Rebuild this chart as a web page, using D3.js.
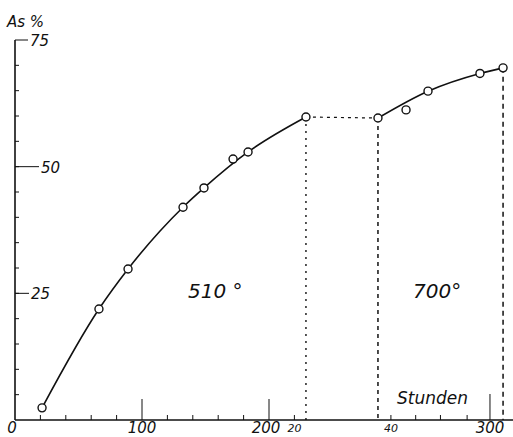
<!DOCTYPE html>
<html><head><meta charset="utf-8">
<script src="https://cdn.jsdelivr.net/npm/d3@7"></script>
<style>body{margin:0;background:#fff}svg{display:block}text{font-family:"DejaVu Sans",sans-serif;font-style:italic;fill:#111}</style>
</head><body><svg id="c" width="513" height="437"></svg>
<script>
// hours (position along the time axis) and As %
const hours510 = [21.3, 66.1, 89.0, 132.3, 148.8, 171.7, 183.5, 229.1];
const as510    = [2.4, 21.9, 29.8, 42.0, 45.8, 51.5, 52.9, 59.8];
const hours700 = [285.8, 307.9, 325.2, 366.1, 384.3];
const as700    = [59.6, 61.2, 64.9, 68.4, 69.5];
// points the drawn curve passes through (the scattered ones are left off)
const onCurve510 = [0, 1, 2, 3, 4, 6, 7];
const onCurve700 = [0, 2, 3, 4];
const yTickValues = [25, 50, 75];
const yMinor = d3.range(5, 75, 5);
const xTickValues = [0, 100, 200, 220, 296, 374];
const xTickLabels = ["0", "100", "200", "20", "40", "300"];
const xTallTicks = [100, 200, 374];
const xMinor = [20, 40, 60, 80, 120, 140, 160, 180, 220, 296, 315.5, 335, 356];
const tempLabels = ["510 °", "700°"];

const svg = d3.select("#c");
const x = d3.scaleLinear().domain([0, 100]).range([15, 142]);
const y = d3.scaleLinear().domain([0, 75]).range([420, 40]);
const ink = "#111";

// axes
svg.append("line").attr("x1", x(0)).attr("x2", 513).attr("y1", y(0)).attr("y2", y(0)).attr("stroke", ink).attr("stroke-width", 1.6);
svg.append("line").attr("x1", x(0)).attr("x2", x(0)).attr("y1", y(0)).attr("y2", y(75)).attr("stroke", ink).attr("stroke-width", 1.6);

// y minor ticks
svg.selectAll(".ym").data(yMinor).join("line")
  .attr("x1", x(0)).attr("x2", x(0) + 4).attr("y1", d => y(d)).attr("y2", d => y(d))
  .attr("stroke", ink).attr("stroke-width", 1);
// y labelled ticks with leader lines
const yLead = {25: 14, 50: 24, 75: 13};
svg.selectAll(".yt").data(yTickValues).join("line")
  .attr("x1", x(0)).attr("x2", d => x(0) + yLead[d]).attr("y1", d => y(d)).attr("y2", d => y(d))
  .attr("stroke", ink).attr("stroke-width", 1);
svg.selectAll(".yl").data(yTickValues).join("text")
  .attr("x", d => x(0) + yLead[d] + 2).attr("y", d => y(d) + 6)
  .attr("font-size", 15).text(d => d);

// x ticks
svg.selectAll(".xm").data(xMinor).join("line")
  .attr("x1", d => x(d)).attr("x2", d => x(d)).attr("y1", y(0)).attr("y2", y(0) - 5)
  .attr("stroke", ink).attr("stroke-width", 1);
svg.selectAll(".xt").data(xTallTicks).join("line")
  .attr("x1", d => x(d)).attr("x2", d => x(d)).attr("y1", y(0)).attr("y2", d => y(0) - (d === 374 ? 26 : 21))
  .attr("stroke", ink).attr("stroke-width", 1);
svg.selectAll(".xl").data(xTickValues).join("text")
  .attr("x", (d, i) => x(d) + (i === 0 ? -3 : (i === 2 ? -3 : 0)))
  .attr("y", 433)
  .attr("text-anchor", "middle")
  .attr("font-size", (d, i) => (i === 3 || i === 4) ? 11 : 15)
  .attr("dy", (d, i) => (i === 3 || i === 4) ? -1 : 0)
  .text((d, i) => xTickLabels[i]);

// dashed guide lines
const g510 = hours510.length - 1;
svg.append("line").attr("x1", x(hours510[g510])).attr("x2", x(hours510[g510]))
  .attr("y1", y(as510[g510])).attr("y2", y(0)).attr("stroke", ink).attr("stroke-width", 1.4).attr("stroke-dasharray", "2,5");
svg.append("line").attr("x1", x(hours510[g510])).attr("x2", x(hours700[0]))
  .attr("y1", y(as510[g510])).attr("y2", y(as700[0])).attr("stroke", ink).attr("stroke-width", 1.2).attr("stroke-dasharray", "3,4");
svg.append("line").attr("x1", x(hours700[0])).attr("x2", x(hours700[0]))
  .attr("y1", y(as700[0])).attr("y2", y(0)).attr("stroke", ink).attr("stroke-width", 1.5).attr("stroke-dasharray", "4,4");
const l700 = hours700.length - 1;
svg.append("line").attr("x1", x(hours700[l700])).attr("x2", x(hours700[l700]))
  .attr("y1", y(as700[l700])).attr("y2", y(0)).attr("stroke", ink).attr("stroke-width", 1.5).attr("stroke-dasharray", "5,4");

// curves
const line = d3.line().x(d => x(d[0])).y(d => y(d[1])).curve(d3.curveMonotoneX);
svg.append("path").attr("d", line(onCurve510.map(i => [hours510[i], as510[i]])))
  .attr("fill", "none").attr("stroke", ink).attr("stroke-width", 1.6);
svg.append("path").attr("d", line(onCurve700.map(i => [hours700[i], as700[i]])))
  .attr("fill", "none").attr("stroke", ink).attr("stroke-width", 1.6);

// points
const pts = hours510.map((h, i) => [h, as510[i]]).concat(hours700.map((h, i) => [h, as700[i]]));
svg.selectAll(".pt").data(pts).join("circle")
  .attr("cx", d => x(d[0])).attr("cy", d => y(d[1])).attr("r", 4)
  .attr("fill", "#fff").attr("stroke", ink).attr("stroke-width", 1.4);

// labels
svg.append("text").attr("x", 7).attr("y", 27).attr("font-size", 15).text("As %");
svg.append("text").attr("x", 188).attr("y", 298).attr("font-size", 20).text(tempLabels[0]);
svg.append("text").attr("x", 413).attr("y", 298).attr("font-size", 20).text(tempLabels[1]);
svg.append("text").attr("x", 397).attr("y", 404).attr("font-size", 17).text("Stunden");
</script></body></html>
